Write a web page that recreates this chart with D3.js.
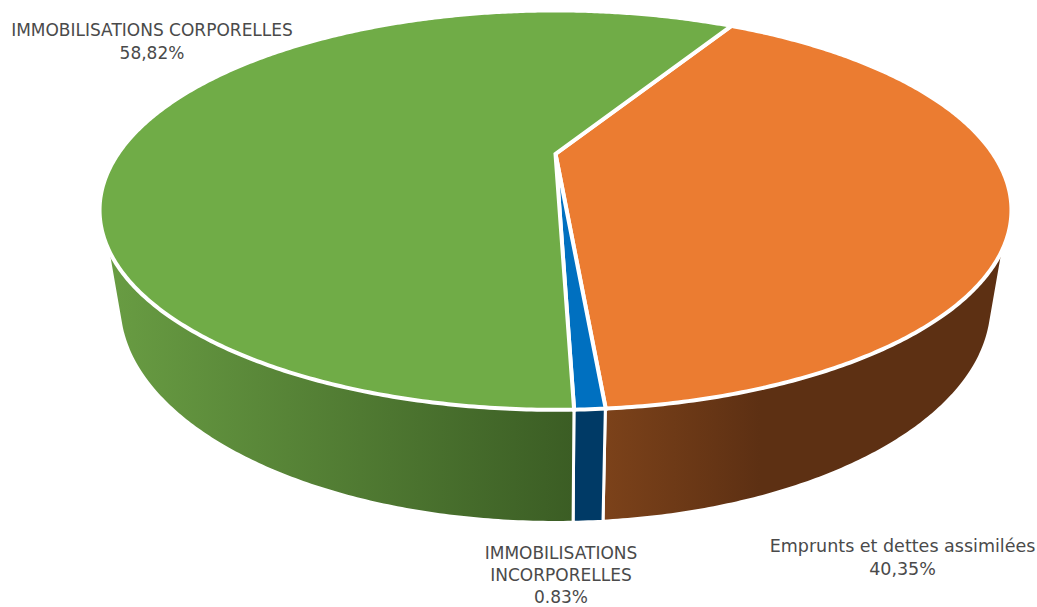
<!DOCTYPE html>
<html>
<head>
<meta charset="utf-8">
<script src="https://cdn.jsdelivr.net/npm/d3@7"></script>
<style>
  html, body { margin: 0; padding: 0; background: #fff; }
  text { font-family: "DejaVu Sans", sans-serif; fill: #4a4a4a; font-size: 17px; }
</style>
</head>
<body>
<div id="chart"></div>
<script>
const categories = ["Emprunts et dettes assimilées", "IMMOBILISATIONS INCORPORELLES", "IMMOBILISATIONS CORPORELLES"];
const values = [40.35, 0.83, 58.82];
const valueLabels = ["40,35%", "0.83%", "58,82%"];
const topColors = ["#eb7c31", "#0070c0", "#70ac47"];
const wallFrom = ["#7c421a", "#003a66", "#699d43"];
const wallTo = ["#5d3013", "#003a66", "#3b5d24"];

const width = 1037, height = 607;

// perspective of the pie: (u, v) on the unit circle, z = 0 on top and 1 at the base
const centerX = 555.5, centerY = 154;
const spreadX = 435.4, spreadY = 183, tilt = 0.2796;
const drop = 95.7, shrink = 0.036;

function project(angle, r, z) {
  const u = r * Math.sin(angle), v = -r * Math.cos(angle);
  const w = 1 - tilt * v + shrink * z;
  return [centerX + spreadX * u / w, centerY + (spreadY * v + drop * z) / w];
}

const rad = d => d * Math.PI / 180;
const line = d3.line();

function arcAngles(a0, a1) {
  const n = Math.max(2, Math.ceil((a1 - a0) / rad(0.5)));
  return d3.range(n + 1).map(i => a0 + (a1 - a0) * i / n);
}

const svg = d3.select("#chart").append("svg")
  .attr("width", width)
  .attr("height", height)
  .attr("viewBox", [0, 0, width, height])
  .style("display", "block");

const defs = svg.append("defs");

const slices = d3.pie().sort(null).startAngle(rad(30)).endAngle(rad(390))(values);

// part of the side wall the camera can see
const wallStart = rad(110.4), wallEnd = rad(249.6);

const walls = svg.append("g");
slices.forEach((s, i) => {
  const a0 = Math.max(s.startAngle, wallStart), a1 = Math.min(s.endAngle, wallEnd);
  if (a1 <= a0) return;
  const angles = arcAngles(a0, a1);
  const top = angles.map(a => project(a, 1, 0));
  const bottom = angles.map(a => project(a, 1, 1)).reverse();
  const xs = top.concat(bottom).map(p => p[0]);

  const grad = defs.append("linearGradient")
    .attr("id", `wall-${i}`)
    .attr("gradientUnits", "userSpaceOnUse")
    .attr("x1", d3.min(xs)).attr("x2", i === 0 ? 760 : d3.max(xs))
    .attr("y1", 0).attr("y2", 0);
  grad.append("stop").attr("offset", 0).attr("stop-color", wallFrom[i]);
  grad.append("stop").attr("offset", 1).attr("stop-color", wallTo[i]);

  walls.append("path")
    .attr("d", line(top.concat(bottom)) + "Z")
    .attr("fill", `url(#wall-${i})`)
    .attr("stroke", "#fff")
    .attr("stroke-width", 3)
    .attr("stroke-linejoin", "round");
});

// the white outline eats into the face, so the rim sits a little further out
const faceRadius = 1.005;

const faces = svg.append("g");
slices.forEach((s, i) => {
  const rim = arcAngles(s.startAngle, s.endAngle).map(a => project(a, faceRadius, 0));
  faces.append("path")
    .attr("d", line([project(0, 0, 0), ...rim]) + "Z")
    .attr("fill", topColors[i])
    .attr("stroke", "#fff")
    .attr("stroke-width", 4)
    .attr("stroke-linejoin", "miter");
});

function label(lines, x, y0, lineGap, size) {
  const t = svg.append("text").attr("text-anchor", "middle").style("font-size", size + "px");
  lines.forEach((l, k) => {
    t.append("tspan").attr("x", x).attr("y", y0 + k * lineGap).text(l);
  });
}

label([categories[2], valueLabels[2]], 152, 36, 23, 17);
label([categories[0], valueLabels[0]], 902.5, 552, 23, 17.5);
label(categories[1].split(" ").concat(valueLabels[1]), 561, 559, 22, 17);
</script>
</body>
</html>
